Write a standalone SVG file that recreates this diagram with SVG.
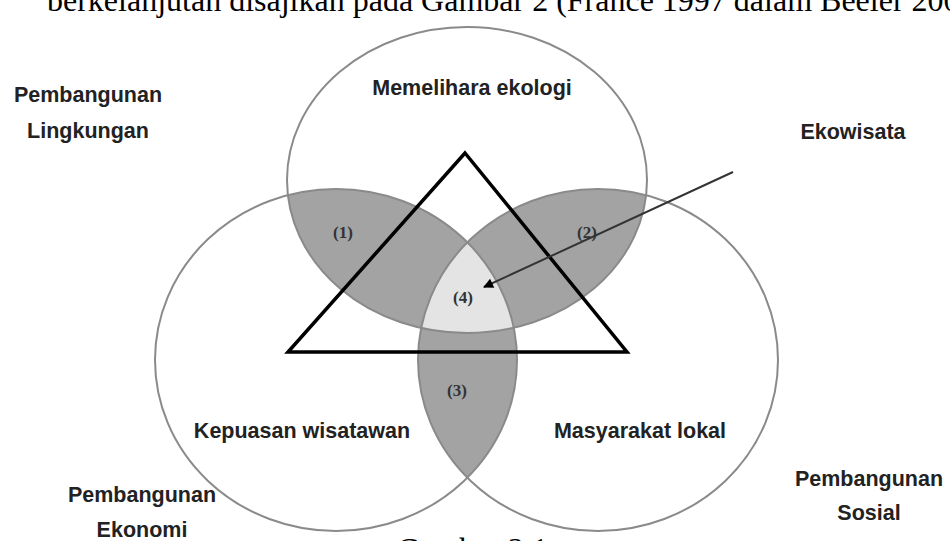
<svg xmlns="http://www.w3.org/2000/svg" width="950" height="541" viewBox="0 0 950 541">
<style>
.lbl{font-family:"Liberation Sans",Arial,sans-serif;font-weight:bold;font-size:21.5px;fill:#222;text-anchor:middle}
.num{font-family:"Liberation Serif","Times New Roman",serif;font-weight:bold;font-size:17px;fill:#333;text-anchor:middle}
.cap{font-family:"Liberation Serif","Times New Roman",serif;font-size:32px;fill:#000}
.ring{fill:none;stroke:#8a8a8a;stroke-width:2}
.dark{fill:#a3a3a3}
.light{fill:#e4e4e4}
</style>
<defs>
<clipPath id="cT"><ellipse cx="467" cy="180" rx="180" ry="153"/></clipPath>
<clipPath id="cL"><ellipse cx="336" cy="360" rx="181" ry="171"/></clipPath>
<clipPath id="cR"><ellipse cx="598" cy="360" rx="180" ry="171"/></clipPath>
<marker id="ah" viewBox="0 0 10 10" refX="9" refY="5" markerWidth="13" markerHeight="10" markerUnits="userSpaceOnUse" orient="auto"><path d="M0,0 L10,5 L0,10 z" fill="#000"/></marker>
</defs>
<rect width="950" height="541" fill="#fff"/>
<text class="cap" x="47" y="11">berkelanjutan disajikan pada Gambar 2 (France 1997 dalam Beeler 2009)</text>
<g id="regions">
<ellipse class="dark" cx="336" cy="360" rx="181" ry="171" clip-path="url(#cT)"/>
<ellipse class="dark" cx="598" cy="360" rx="180" ry="171" clip-path="url(#cT)"/>
<ellipse class="dark" cx="598" cy="360" rx="180" ry="171" clip-path="url(#cL)"/>
<g clip-path="url(#cT)"><ellipse class="light" cx="598" cy="360" rx="180" ry="171" clip-path="url(#cL)"/></g>
</g>
<g id="circle-top"><ellipse class="ring" cx="467" cy="180" rx="180" ry="153"/></g>
<g id="circle-left"><ellipse class="ring" cx="336" cy="360" rx="181" ry="171"/></g>
<g id="circle-right"><ellipse class="ring" cx="598" cy="360" rx="180" ry="171"/></g>
<g id="triangle"><polygon points="465,153 627,352 288,352" fill="none" stroke="#000" stroke-width="3.5" stroke-linejoin="miter"/></g>
<g id="connectors"><line x1="733" y1="172" x2="484" y2="287" stroke="#333" stroke-width="2" marker-end="url(#ah)"/></g>
<g id="numbers">
<text class="num" x="343" y="238">(1)</text>
<text class="num" x="587" y="238">(2)</text>
<text class="num" x="463" y="303">(4)</text>
<text class="num" x="457" y="396">(3)</text>
</g>
<g id="labels">
<text class="lbl" x="472" y="95">Memelihara ekologi</text>
<text class="lbl" x="88" y="102">Pembangunan</text>
<text class="lbl" x="88" y="138">Lingkungan</text>
<text class="lbl" x="853" y="139">Ekowisata</text>
<text class="lbl" x="302" y="438">Kepuasan wisatawan</text>
<text class="lbl" x="640" y="438">Masyarakat lokal</text>
<text class="lbl" x="142" y="502">Pembangunan</text>
<text class="lbl" x="142" y="537">Ekonomi</text>
<text class="lbl" x="869" y="486">Pembangunan</text>
<text class="lbl" x="869" y="520">Sosial</text>
</g>
<text class="cap" x="397" y="560">Gambar 2.1</text>
</svg>
